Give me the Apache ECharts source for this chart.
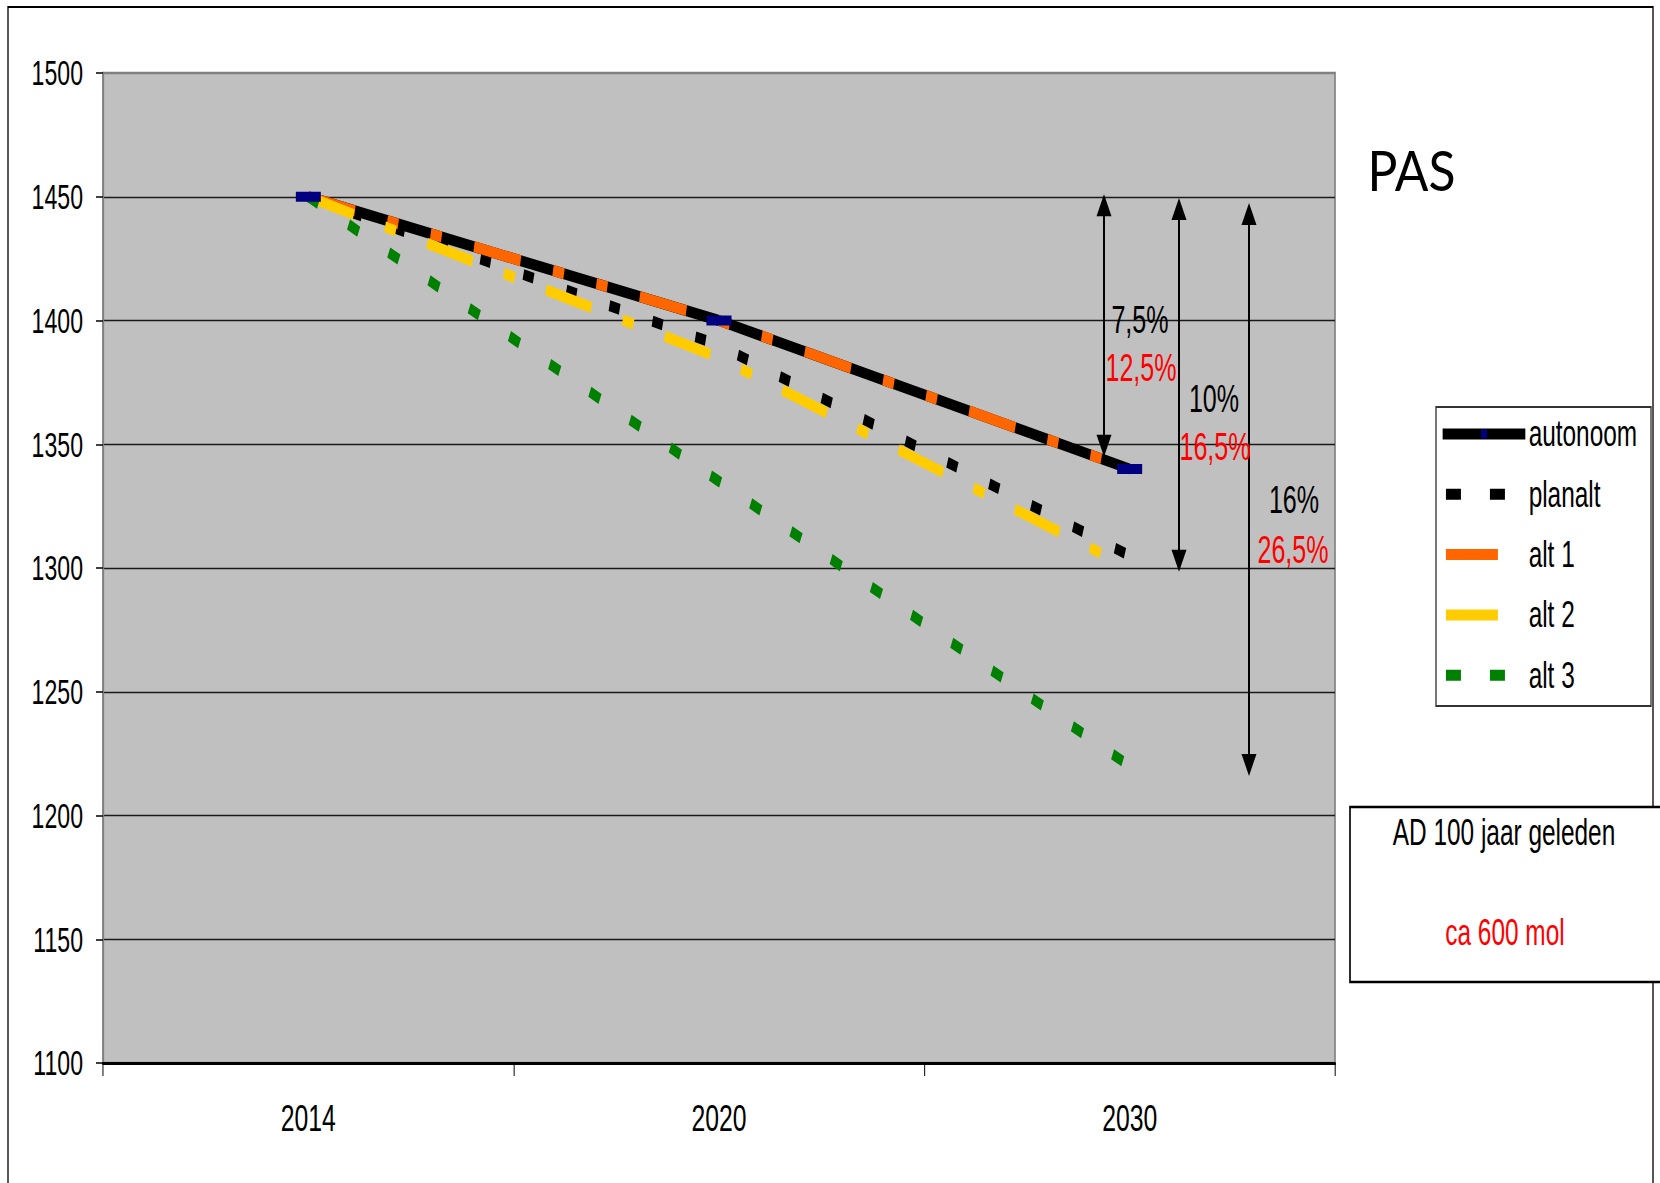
<!DOCTYPE html>
<html>
<head>
<meta charset="utf-8">
<title>PAS</title>
<script src="https://cdn.jsdelivr.net/npm/echarts@6/dist/echarts.min.js"></script>
<style>
  html, body { margin: 0; padding: 0; background: #fff; overflow: hidden; }
  #chart { height: 1183px; transform-origin: 0 0; }
</style>
</head>
<body>
<div id="chart"></div>
<script>
// ---- data ----
const years = ['2014', '2020', '2030'];
const autonoom = [1450, 1400, 1340];
const planalt = [1450, 1390, 1305];
const alt1 = [1450, 1400, 1340];
const alt2 = [1450, 1385, 1300];
const alt3 = [1450, 1335, 1220];
const yMin = 1100, yMax = 1500, yStep = 50;

// reduction arrows: [upper value, lower value] and their two labels
const arrowSpans = [[1451, 1345], [1449.5, 1298.5], [1447.5, 1216]];
const spanLabels = [['7,5%', '12,5%'], ['10%', '16,5%'], ['16%', '26,5%']];
const noteTitle = 'AD 100 jaar geleden';
const noteValue = 'ca 600 mol';
const chartTitle = 'PAS';

// ---- layout ----
// The drawing is laid out in a horizontally condensed space (narrow lettering);
// X() maps page x to that space.
const SX = 0.66;
const W = 1660 / SX, H = 1183;
const X = v => v / SX;
const FONT = "'Liberation Sans', Arial, sans-serif";

const el = document.getElementById('chart');
el.style.width = W + 'px';
el.style.transform = 'scaleX(' + SX + ')';

const chart = echarts.init(el, null, { renderer: 'svg', width: W, height: H });

const LW = 11;
const common = { type: 'line', silent: true, emphasis: { disabled: true }, animation: false };

const option = {
  animation: false,
  backgroundColor: '#fff',
  grid: {
    left: X(103), top: 73, width: X(1335) - X(103), height: 990,
    show: true, backgroundColor: '#c0c0c0', borderColor: '#808080', borderWidth: 2.5,
    containLabel: false, outerBoundsMode: 'none'
  },
  xAxis: {
    type: 'category', data: years, boundaryGap: true,
    axisLine: { show: true, lineStyle: { color: '#000', width: 3 } },
    axisTick: { show: true, length: 13, lineStyle: { color: '#000', width: 1.5 } },
    axisLabel: { interval: 0, fontSize: 37.5, fontFamily: FONT, color: '#000', margin: 36.5 },
    splitLine: { show: false }
  },
  yAxis: {
    type: 'value', min: yMin, max: yMax, interval: yStep,
    axisLine: { show: true, lineStyle: { color: '#808080', width: 2.6 } },
    axisTick: { show: true, length: X(7), lineStyle: { color: '#000', width: 1.5 } },
    axisLabel: { fontSize: 35, fontFamily: FONT, color: '#000', margin: X(20),
                 formatter: v => String(v) },
    splitLine: { show: true, showMinLine: false, showMaxLine: false, lineStyle: { color: '#1a1a1a', width: 1.4 } }
  },
  legend: {
    orient: 'vertical', left: X(1439), top: 415.5, padding: 0, itemGap: 23.3,
    itemWidth: X(1525) - X(1439) - 5, itemHeight: 11,
    selectedMode: false,
    textStyle: { fontSize: 37, fontFamily: FONT, color: '#000' },
    lineStyle: { width: LW },
    itemStyle: { borderWidth: 0 },
    data: [
      { name: 'autonoom' },
      { name: 'planalt', lineStyle: { type: [X(15), X(29)], dashOffset: -X(3) }, itemStyle: { opacity: 0 } },
      { name: 'alt 1', lineStyle: { type: [X(52), 400], dashOffset: -X(3) }, itemStyle: { opacity: 0 } },
      { name: 'alt 2', lineStyle: { type: [X(52), 400], dashOffset: -X(3) }, itemStyle: { opacity: 0 } },
      { name: 'alt 3', lineStyle: { type: [X(15), X(29)], dashOffset: -X(3) }, itemStyle: { opacity: 0 } }
    ]
  },
  series: [
    Object.assign({}, common, { name: 'autonoom', data: autonoom, symbol: 'rect', symbolSize: [X(25), 10], showSymbol: false,
      lineStyle: { color: '#000', width: LW }, itemStyle: { color: '#000080', borderWidth: 0, opacity: 1 }, z: 2 }),
    Object.assign({}, common, { name: 'planalt', data: planalt, symbol: 'none',
      lineStyle: { color: '#000', width: LW, type: [16, 51] }, itemStyle: { color: '#000' }, z: 3 }),
    Object.assign({}, common, { name: 'alt 1', data: alt1, symbol: 'none',
      lineStyle: { color: '#ff6600', width: LW, type: [72, 50, 17, 50, 17, 50] }, itemStyle: { color: '#ff6600' }, z: 4 }),
    Object.assign({}, common, { name: 'alt 2', data: alt2, symbol: 'none',
      lineStyle: { color: '#ffcc00', width: LW, type: [71, 49, 17, 49] }, itemStyle: { color: '#ffcc00' }, z: 5 }),
    Object.assign({}, common, { name: 'alt 3', data: alt3, symbol: 'none',
      lineStyle: { color: '#008000', width: LW, type: [17, 50] }, itemStyle: { color: '#008000' }, z: 6 }),
    // autonoom markers sit above every line
    { type: 'scatter', name: 'autonoom', data: autonoom, symbol: 'rect', symbolSize: [X(25), 10],
      itemStyle: { color: '#000080', opacity: 1, borderWidth: 0 }, silent: true, emphasis: { disabled: true }, z: 10 }
  ]
};

chart.setOption(option);

// ---- annotations ----
const yPix = v => chart.convertToPixel({ yAxisIndex: 0 }, v);
const arrowXs = [1104, 1179, 1249];
const labelPos = [[[1140, 320], [1141, 368]], [[1214, 399], [1215, 447.5]], [[1294, 500], [1293, 550]]];

const graphics = [
  // page frame
  { type: 'rect', z: 0, shape: { x: X(8), y: 7, width: X(1653) - X(8), height: 1200 },
    style: { fill: 'none', stroke: '#000', lineWidth: 2 } },
  // legend frame
  { type: 'rect', z: 1, shape: { x: X(1436), y: 407, width: X(1651) - X(1436), height: 299 },
    style: { fill: '#fff', stroke: '#333', lineWidth: 2 } },
  // note box
  { type: 'rect', z: 1, shape: { x: X(1350), y: 807, width: X(1680) - X(1350), height: 175 },
    style: { fill: '#fff', stroke: '#000', lineWidth: 2.5 } },
  { type: 'text', z: 2, x: X(1504), y: 833,
    style: { text: noteTitle, fontSize: 37, fontFamily: FONT, fill: '#000', align: 'center', verticalAlign: 'middle' } },
  { type: 'text', z: 2, x: X(1505), y: 933,
    style: { text: noteValue, fontSize: 37, fontFamily: FONT, fill: '#ff0000', align: 'center', verticalAlign: 'middle' } },
  // title
  { type: 'text', z: 2, x: X(1411.5), y: 169, scaleX: 0.89 / SX,
    style: { text: chartTitle, fontSize: 56, fontFamily: "Lato, 'Open Sans', sans-serif", fill: '#000', align: 'center', verticalAlign: 'middle' } }
];

arrowSpans.forEach(function (span, i) {
  const cx = X(arrowXs[i]);
  const yTop = yPix(span[0]);
  const yBot = yPix(span[1]);
  const hw = X(7.5), hl = 22;
  graphics.push(
    { type: 'line', z: 20, shape: { x1: cx, y1: yTop + hl - 2, x2: cx, y2: yBot - hl + 2 },
      style: { stroke: '#000', lineWidth: X(2) } },
    { type: 'polygon', z: 20, shape: { points: [[cx, yTop], [cx - hw, yTop + hl], [cx + hw, yTop + hl]] },
      style: { fill: '#000' } },
    { type: 'polygon', z: 20, shape: { points: [[cx, yBot], [cx - hw, yBot - hl], [cx + hw, yBot - hl]] },
      style: { fill: '#000' } }
  );
  spanLabels[i].forEach(function (txt, j) {
    graphics.push({ type: 'text', z: 21, x: X(labelPos[i][j][0]), y: labelPos[i][j][1],
      style: { text: txt, fontSize: 38, fontFamily: FONT, fill: j === 0 ? '#000' : '#ff0000',
               align: 'center', verticalAlign: 'middle' } });
  });
});

chart.setOption({ graphic: graphics });
</script>
</body>
</html>
